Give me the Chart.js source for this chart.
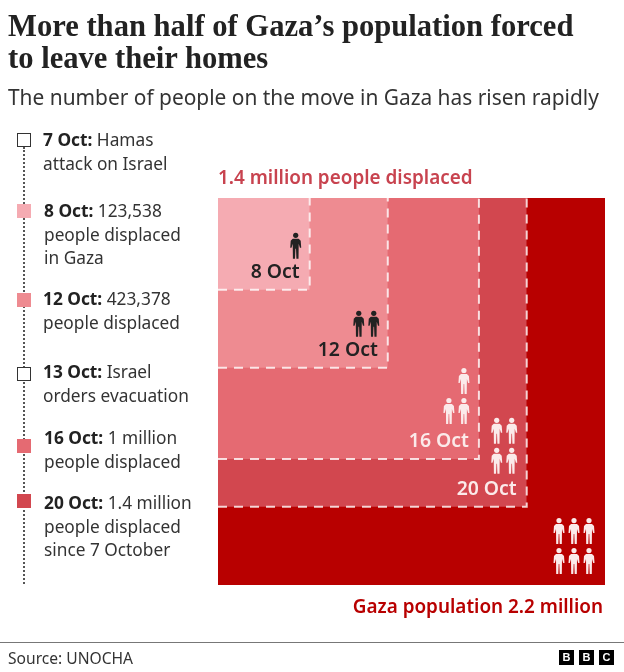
<!DOCTYPE html>
<html>
<head>
<meta charset="utf-8">
<script src="https://cdn.jsdelivr.net/npm/chart.js@4"></script>
<style>
    html, body { margin: 0; padding: 0; background: #fff; }
    body { position: relative; width: 624px; height: 672px; overflow: hidden; font-family: "Noto Sans", sans-serif; color: #222; }
    canvas { position: absolute; left: 0; top: 0; }
    .abs { position: absolute; white-space: nowrap; }
    h1 { margin: 0; left: 8px; top: 10px; font: bold 30.6px/32px "Liberation Serif", serif; color: #222; }
    .sub { left: 8px; top: 83px; font-size: 20.9px; line-height: 28px; color: #333; }
    .note { font-size: 17.3px; line-height: 23.5px; color: #333; }
    .note b { color: #222; }
    .dots { left: 23px; top: 147px; height: 437px; border-left: 2px dotted #555; }
    .box { width: 14px; height: 14px; box-sizing: border-box; }
    .hollow { background: #fff; border: 1.5px solid #333; }
    .cap { font-size: 18.9px; line-height: 24px; font-weight: 600; }
    .rule { left: 0; top: 642px; width: 624px; height: 1px; background: #777; }
    .source { left: 8px; top: 647px; font-size: 15.6px; line-height: 22px; color: #333; }
    .logo { top: 650px; width: 15px; height: 15px; background: #000; color: #fff; font: bold 11px/15px "Liberation Sans", sans-serif; text-align: center; }
</style>
</head>
<body>
<canvas id="squares" width="624" height="672"></canvas>

<h1 class="abs">More than half of Gaza’s population forced<br>to leave their homes</h1>
<div class="abs sub">The number of people on the move in Gaza has risen rapidly</div>

<div class="abs dots"></div>
<div id="timeline"></div>

<div class="abs cap" style="left:218px;top:165px;color:#c8434f">1.4 million people displaced</div>
<div class="abs cap" style="right:21px;top:594px;color:#b80000">Gaza population 2.2 million</div>

<div class="abs rule"></div>
<div class="abs source">Source: UNOCHA</div>
<div class="abs logo" style="left:559px">B</div>
<div class="abs logo" style="left:579px">B</div>
<div class="abs logo" style="left:599px">C</div>

<script>
// values read from the graphic, smallest square first
const dates = ['8 Oct', '12 Oct', '16 Oct', '20 Oct', 'Gaza population'];
const displaced = [123538, 423378, 1000000, 1400000, 2200000];
const iconCounts = [1, 2, 3, 4, 6];
const colours = ['#f5abb2', '#ee8b91', '#e56a72', '#d2474f', '#b80000'];
const inkColours = ['#222222', '#222222', '#fbeaea', '#fbeaea', '#fbeaea'];

// timeline notes on the left
const noteDates = ['7 Oct:', '8 Oct:', '12 Oct:', '13 Oct:', '16 Oct:', '20 Oct:'];
const noteLines = [
    ['Hamas', 'attack on Israel'],
    ['123,538', 'people displaced', 'in Gaza'],
    ['423,378', 'people displaced'],
    ['Israel', 'orders evacuation'],
    ['1 million', 'people displaced'],
    ['1.4 million', 'people displaced', 'since 7 October']
];
const noteColours = [null, '#f5abb2', '#ee8b91', null, '#e56a72', '#d2474f'];
const noteTops = [128, 199, 287, 360, 426, 491];
const noteLefts = [43, 44, 43, 43, 44, 44];
const boxTops = [133, 204, 293, 367, 439, 494];

const timeline = document.getElementById('timeline');
noteDates.forEach(function(d, i) {
    const box = document.createElement('div');
    box.className = 'abs box' + (noteColours[i] ? '' : ' hollow');
    box.style.left = '17px';
    box.style.top = boxTops[i] + 'px';
    if (noteColours[i]) box.style.background = noteColours[i];
    timeline.appendChild(box);

    const note = document.createElement('div');
    note.className = 'abs note';
    note.style.left = noteLefts[i] + 'px';
    note.style.top = noteTops[i] + 'px';
    note.innerHTML = '<b>' + d + '</b> ' + noteLines[i].join('<br>');
    timeline.appendChild(note);
});

// the area of each square is the number of people, so its side is the root
const sides = displaced.map(v => Math.sqrt(v));
const maxSide = sides[sides.length - 1];

function drawPerson(ctx, cx, bottom) {
    // small pictogram, 26px tall
    const t = bottom - 26;
    ctx.beginPath();
    ctx.arc(cx, t + 2.6, 2.6, 0, Math.PI * 2);
    ctx.fill();
    ctx.beginPath();
    ctx.moveTo(cx - 3, t + 6);
    ctx.lineTo(cx + 3, t + 6);
    ctx.lineTo(cx + 5, t + 8);
    ctx.lineTo(cx + 5.5, t + 15);
    ctx.lineTo(cx + 4.2, t + 15);
    ctx.lineTo(cx + 3, t + 11);
    ctx.lineTo(cx + 2.8, t + 26);
    ctx.lineTo(cx + 0.7, t + 26);
    ctx.lineTo(cx + 0.3, t + 16);
    ctx.lineTo(cx - 0.3, t + 16);
    ctx.lineTo(cx - 0.7, t + 26);
    ctx.lineTo(cx - 2.8, t + 26);
    ctx.lineTo(cx - 3, t + 11);
    ctx.lineTo(cx - 4.2, t + 15);
    ctx.lineTo(cx - 5.5, t + 15);
    ctx.lineTo(cx - 5, t + 8);
    ctx.closePath();
    ctx.fill();
}

// offsets from each square's lower right corner
const iconRight = [14, 14, 15, 15, 16];
const iconBottom = [31, 31, 35, 33, 11];
const iconRows = [1, 1, 2, 2, 2];
const iconColumns = [1, 2, 2, 2, 3];

const cornerLabels = {
    id: 'cornerLabels',
    afterDatasetsDraw(chart) {
        const ctx = chart.ctx;
        const x = chart.scales.x;
        const y = chart.scales.y;
        ctx.save();
        dates.forEach(function(name, i) {
            const px = x.getPixelForValue(sides[i]);
            const py = y.getPixelForValue(sides[i]);
            ctx.fillStyle = inkColours[i];
            if (i < 4) {
                ctx.font = '600 19.4px "Noto Sans", sans-serif';
                ctx.textAlign = 'right';
                ctx.textBaseline = 'alphabetic';
                ctx.fillText(name, px - 10, py - 12);
            }
            // icons fill rows from the bottom right
            let left = iconCounts[i];
            for (let r = 0; r < iconRows[i]; r++) {
                for (let c = 0; c < iconColumns[i] && left > 0; c++) {
                    drawPerson(ctx, px - iconRight[i] - c * 15, py - iconBottom[i] - r * 30);
                    left--;
                }
            }
        });
        ctx.restore();
    }
};

new Chart(document.getElementById('squares'), {
    type: 'line',
    data: {
        // first dataset is painted last, so the smallest square stays on top
        datasets: sides.map(function(s, i) {
            return {
                label: dates[i],
                data: [{x: 0, y: s}, {x: s, y: s}, {x: s, y: 0}],
                backgroundColor: colours[i],
                fill: 'end',
                borderColor: 'rgba(255, 255, 255, 0.8)',
                borderWidth: i < 4 ? 2 : 0,
                borderDash: [9, 7],
                pointRadius: 0,
                tension: 0
            };
        })
    },
    options: {
        responsive: false,
        animation: false,
        events: [],
        layout: { padding: { left: 218, top: 198, right: 19, bottom: 87 } },
        scales: {
            x: { type: 'linear', display: false, min: 0, max: maxSide },
            y: { type: 'linear', display: false, min: 0, max: maxSide, reverse: true }
        },
        plugins: { legend: { display: false }, tooltip: { enabled: false } }
    },
    plugins: [cornerLabels]
});
</script>
</body>
</html>
